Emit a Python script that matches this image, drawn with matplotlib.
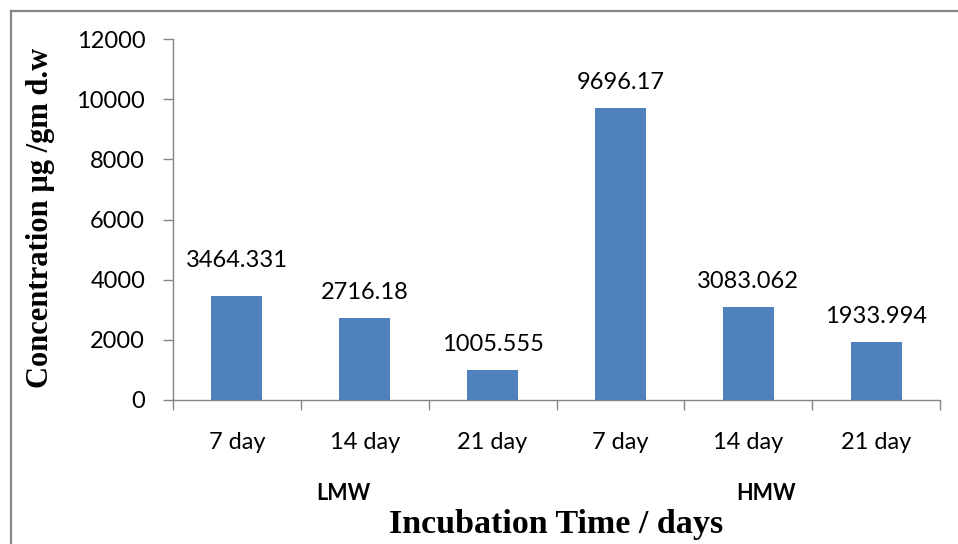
import matplotlib
matplotlib.use('Agg')
import matplotlib.pyplot as plt
from matplotlib.lines import Line2D
import numpy as np

# data
days = ['7 day', '14 day', '21 day', '7 day', '14 day', '21 day']
conc = [3464.331, 2716.18, 1005.555, 9696.17, 3083.062, 1933.994]
conc_labels = ['3464.331', '2716.18', '1005.555', '9696.17', '3083.062', '1933.994']
groups = ['LMW', 'HMW']

bar_col = '#4F81BD'
axis_col = '#868686'
sans = ['Lato', 'DejaVu Sans']
serif = ['Liberation Serif', 'DejaVu Serif']

fig = plt.figure(figsize=(9.58, 5.44), dpi=100)
ax = fig.add_axes([173/958, 1 - 400/544, (940 - 173)/958, (400 - 39)/544])

x = np.arange(len(days))
bars = ax.bar(x, conc, width=0.4, color=bar_col, zorder=3)

# excel style labels above the bars (pixels gap above bar top)
pads = [29, 19, 19, 19, 19, 19]
for xi, v, lab, p in zip(x, conc, conc_labels, pads):
    ax.annotate(lab, (xi, v), xytext=(0, p * 0.72), textcoords='offset points',
                ha='center', va='baseline', fontsize=17, family=sans, color='black')

ax.set_xlim(-0.5, len(days) - 0.5)
ax.set_ylim(0, 12000)
ax.set_yticks(np.arange(0, 12001, 2000))
ax.set_xticks(x)
ax.set_xticklabels(days)
ax.set_xticks(np.arange(-0.5, len(days), 1), minor=True)
ax.tick_params(axis='x', which='major', length=0, pad=23, labelsize=17)
ax.tick_params(axis='x', which='minor', length=7, width=1, color=axis_col, direction='out')
ax.tick_params(axis='y', length=7, width=1, color=axis_col, direction='out', pad=13, labelsize=17)
for t in ax.get_xticklabels() + ax.get_yticklabels():
    t.set_family(sans)

for s in ['top', 'right']:
    ax.spines[s].set_visible(False)
for s in ['left', 'bottom']:
    ax.spines[s].set_color(axis_col)
    ax.spines[s].set_linewidth(1)

fig.text(41/958, 1 - 218/544, 'Concentration µg /gm d.w', rotation=90, ha='center', va='center',
         fontsize=22, fontweight='bold', family=serif)

fig.text(343/958, 1 - 494/544, groups[0], ha='center', va='center', fontsize=15.5,
         fontweight='bold', family=sans)
fig.text(766/958, 1 - 494/544, groups[1], ha='center', va='center', fontsize=15.5,
         fontweight='bold', family=sans)
fig.text(556/958, 1 - 533/544, 'Incubation Time / days', ha='center', va='baseline',
         fontsize=24.5, fontweight='bold', family=serif)

# outer chart frame (only top and left visible in the crop)
fig.add_artist(Line2D([11/958, 1], [1 - 11/544, 1 - 11/544], transform=fig.transFigure,
                      color=axis_col, lw=1.6))
fig.add_artist(Line2D([11/958, 11/958], [1 - 11/544, 0], transform=fig.transFigure,
                      color=axis_col, lw=1.6))

plt.savefig('out.png', dpi=100)
